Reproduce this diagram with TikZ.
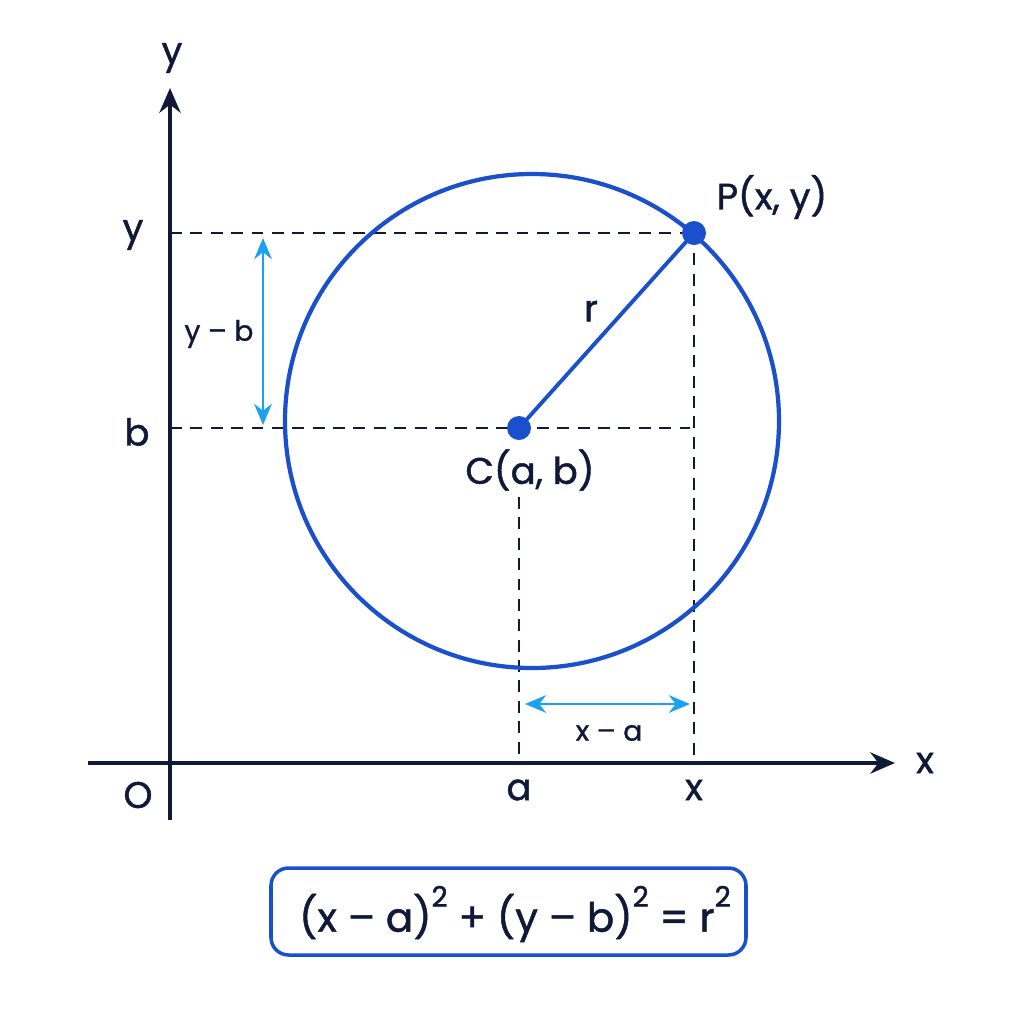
\documentclass[tikz,border=0pt]{standalone}
\usepackage{fontspec}
\setmainfont{Poppins}[FakeBold = 1.2]
\usetikzlibrary{arrows.meta}

\definecolor{navy}{HTML}{101A38}
\definecolor{circblue}{HTML}{1A50CC}
\definecolor{skyblue}{HTML}{1AA2EE}

\newcommand\sqtwo{\raisebox{0.62em}{\fontsize{8}{9}\selectfont 2}}

\tikzset{
  axis/.style = {navy, line width = 1.2pt, -{Stealth[length = 7pt, width = 6pt]}},
  guide/.style = {navy, line width = 0.7pt, dash pattern = on 3.4pt off 2.4pt},
  span/.style = {skyblue, line width = 0.8pt, {Stealth[length = 6pt, width = 5pt]}-{Stealth[length = 6pt, width = 5pt]}},
  lbl/.style = {navy, font = \fontsize{10.5}{12}\selectfont, inner sep = 0pt},
  small/.style = {navy, font = \fontsize{8}{10}\selectfont, inner sep = 0pt}
}

\begin{document}
\begin{tikzpicture}
    \useasboundingbox (0, 0) rectangle (10.24, -10.24);
    \fill[white] (0, 0) rectangle (10.24, -10.24);

      % named points
      \coordinate (xs) at (0.88, -7.63);
      \coordinate (xe) at (8.95, -7.63);
      \coordinate (ys) at (1.70, -8.20);
      \coordinate (ye) at (1.70, -0.88);
      \coordinate (C) at (5.19, -4.28);
      \coordinate (P) at (6.94, -2.33);
      \coordinate (Py) at (1.70, -2.33);
      \coordinate (Cb) at (1.70, -4.28);
      \coordinate (Cr) at (6.90, -4.28);
      \coordinate (Px) at (6.94, -7.63);
      \coordinate (Ca) at (5.19, -7.63);
      \coordinate (Ct) at (5.19, -4.97);

      % axes
      \draw[axis] (xs) -- (xe);
      \draw[axis] (ys) -- (ye);

      % dashed guides
      \draw[guide] (Py) -- (P);
      \draw[guide] (Cb) -- (Cr);
      \draw[guide] (P) -- (Px);
      \draw[guide] (Ct) -- (Ca);

      % circle and radius
      \draw[circblue, line width = 1.2pt] (5.32, -4.21) circle (2.47);
      \draw[circblue, line width = 1.1pt] (C) -- (P);
      \fill[circblue] (C) circle (0.12);
      \fill[circblue] (P) circle (0.12);

      % distances
      \coordinate (yb1) at (2.63, -2.38);
      \coordinate (yb2) at (2.63, -4.25);
      \coordinate (xa1) at (5.25, -7.04);
      \coordinate (xa2) at (6.90, -7.04);
      \draw[span] (yb1) -- (yb2);
      \draw[span] (xa1) -- (xa2);

      % labels
      \draw node[lbl] at (1.72, -0.58) {y};
      \draw node[lbl] at (9.25, -7.63) {x};
      \draw node[lbl] at (1.33, -2.35) {y};
      \draw node[lbl] at (1.37, -4.32) {b};
      \draw node[lbl] at (1.38, -7.95) {O};
      \draw node[lbl] at (5.19, -7.90) {a};
      \draw node[lbl] at (6.94, -7.90) {x};
      \draw node[lbl] at (5.91, -3.11) {r};
      \draw node[lbl] at (5.30, -4.70) {C(a, b)};
      \draw node[lbl] at (7.72, -1.97) {P(x, y)};
      \draw node[small] at (2.19, -3.34) {y -- b};
      \draw node[small] at (6.09, -7.33) {x -- a};

      % equation
      \draw[circblue, line width = 1pt, rounded corners = 5pt] (2.71, -8.68) rectangle (7.46, -9.55);
      \draw node[navy, font = \fontsize{11.5}{14}\selectfont] at (5.15, -9.14)
        {(x -- a)\sqtwo{} + (y -- b)\sqtwo{} = r\sqtwo};

\end{tikzpicture}
\end{document}
